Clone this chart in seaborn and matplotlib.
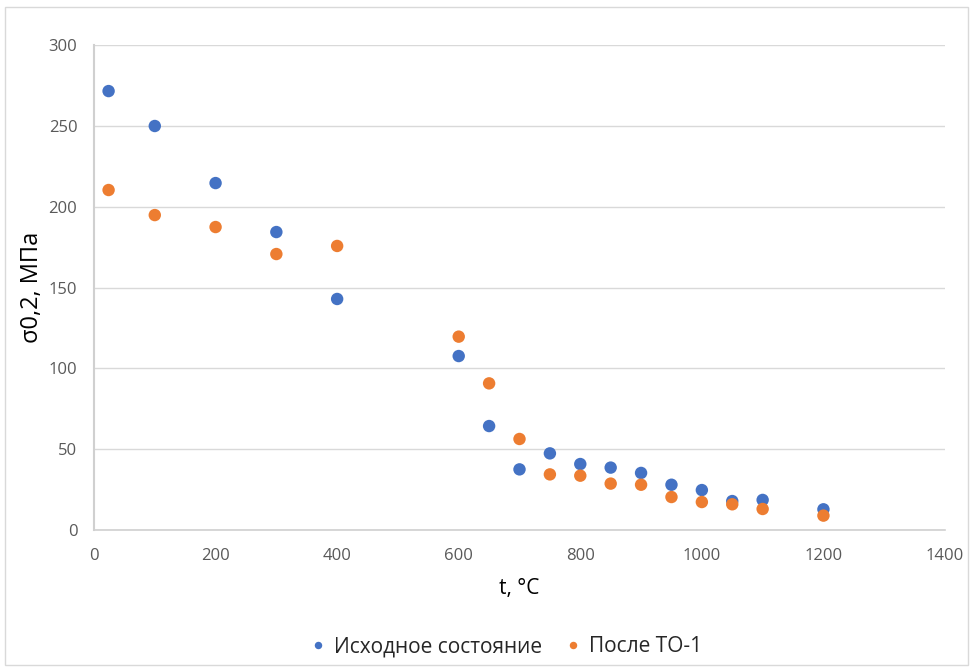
import matplotlib
matplotlib.use("Agg")
import matplotlib.pyplot as plt
import seaborn as sns
import pandas as pd
from matplotlib.patches import Rectangle

temps = [24, 100, 200, 300, 400, 600, 650, 700, 750, 800, 850, 900, 950, 1000, 1050, 1100, 1200]
initial = [271.5, 249.9, 214.6, 184.3, 142.9, 107.6, 64.3, 37.5, 47.4, 40.8, 38.6, 35.3, 28.0, 24.7, 17.9, 18.6, 12.8]
after_to1 = [210.3, 194.8, 187.4, 170.7, 175.7, 119.6, 90.7, 56.3, 34.4, 33.6, 28.7, 28.0, 20.4, 17.3, 15.9, 13.0, 8.9]
series_names = ["Исходное состояние", "После ТО-1"]
colors = ["#4472C4", "#ED7D31"]

df = pd.DataFrame({
    "t": temps * 2,
    "sigma": initial + after_to1,
    "series": [series_names[0]] * len(temps) + [series_names[1]] * len(temps),
})

sns.set_style("white")
plt.rcParams['font.family'] = ['Open Sans', 'DejaVu Sans']

fig = plt.figure(figsize=(9.73, 6.71), dpi=100)
ax = fig.add_axes([94/973, 141/671, 851/973, 485/671])

sns.scatterplot(data=df, x="t", y="sigma", hue="series", palette=colors,
                s=80, linewidth=0, ax=ax, zorder=3)

ax.set_xlim(0, 1400)
ax.set_ylim(0, 300)
ax.set_xticks(range(0, 1401, 200))
ax.set_yticks(range(0, 301, 50))
ax.grid(axis='y', color='#D9D9D9', linewidth=1)
ax.grid(axis='x', visible=False)
for side in ['top', 'right']:
    ax.spines[side].set_visible(False)
ax.spines['left'].set_color('#D0D0D0')
ax.spines['left'].set_linewidth(1.5)
ax.spines['bottom'].set_color('#D0D0D0')
ax.spines['bottom'].set_linewidth(1.2)
ax.tick_params(axis='x', length=4, width=1, color='#D0D0D0', labelsize=12, labelcolor='#595959', pad=9)
ax.tick_params(axis='y', length=0, labelsize=12, labelcolor='#595959', pad=12)

ax.set_xlabel("t, °C", fontsize=15, color='#000000', labelpad=10)
ax.set_ylabel("σ0,2, МПа", fontsize=17, color='#000000', labelpad=3)

leg = ax.legend(loc='center', bbox_to_anchor=(0.483, -0.241), ncol=2, frameon=False,
                fontsize=15, handlelength=1.0, handletextpad=0.25, columnspacing=1.0,
                markerscale=0.6)

fig.patches.append(Rectangle((5/973, 6/671), 963/973, 658/671, transform=fig.transFigure,
                             fill=False, edgecolor='#D9D9D9', linewidth=1))

fig.savefig("out.png", dpi=100)
